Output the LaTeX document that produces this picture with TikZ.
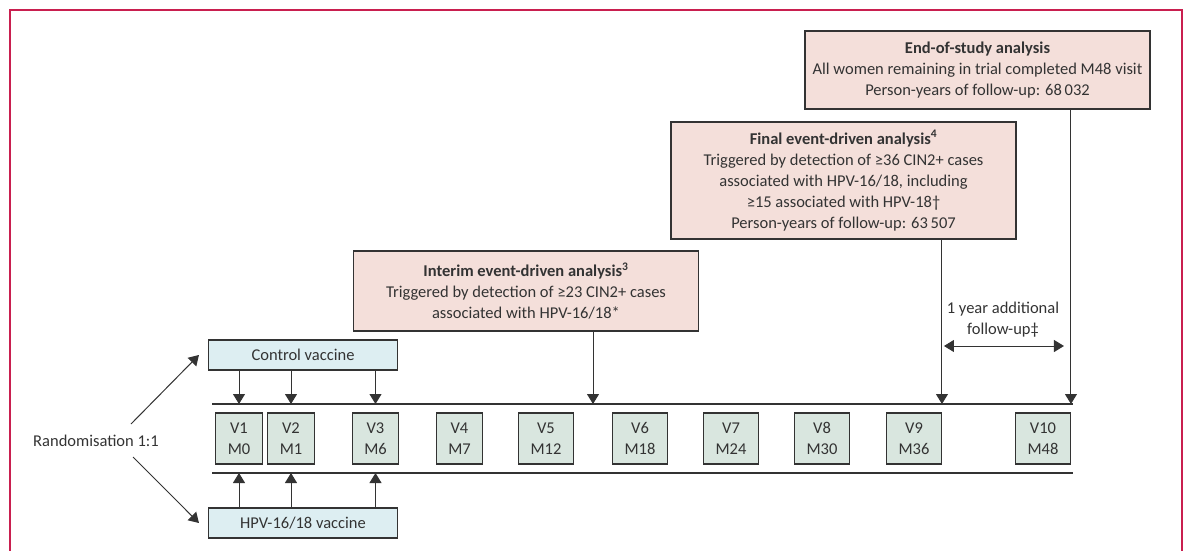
\documentclass[tikz,border=0pt]{standalone}
\usepackage{fontspec}
\setmainfont{Carlito}
\usetikzlibrary{arrows.meta,positioning,calc}
\definecolor{framered}{HTML}{C91F4F}
\definecolor{anapink}{HTML}{F4DFDA}
\definecolor{vacblue}{HTML}{DDEEF2}
\definecolor{visitgreen}{HTML}{D9E6DF}
\definecolor{ink}{HTML}{333333}

\begin{document}
\begin{tikzpicture}[
    x=1pt, y=-1pt,
    every node/.style={text=ink, font=\fontsize{16.5}{21}\selectfont},
    analysis/.style={draw=ink, line width=1.1pt, fill=anapink, align=center, minimum width=345pt, inner sep=0pt},
    vaccine/.style={draw=ink, line width=1.1pt, fill=vacblue, minimum width=189pt, minimum height=30pt, inner sep=0pt},
    visit/.style={draw=ink, line width=1.1pt, fill=visitgreen, align=center, minimum height=51pt, inner xsep=12pt, inner ysep=0pt},
    arr/.style={draw=ink, line width=1pt, -{Triangle[length=10pt,width=12pt]}},
    darr/.style={draw=ink, line width=1pt, {Triangle[length=10pt,width=12pt]}-{Triangle[length=10pt,width=12pt]}},
    rule/.style={draw=ink, line width=1.1pt}
]
\useasboundingbox (0,0) rectangle (1186,551);
\draw[framered, line width=1.2pt] (10,551) -- (10,10) -- (1182,10) -- (1182,551);

\node[analysis, minimum height=78pt] (endst) at (977.5,70) {\textbf{End-of-study analysis}\\All women remaining in trial completed M48 visit\\Person-years of follow-up: 68\,032};
\node[analysis, minimum height=117pt] (final) at (843.5,180.5) {\textbf{Final event-driven analysis\textsuperscript{4}}\\Triggered by detection of ≥36 CIN2+ cases\\associated with HPV-16/18, including\\≥15 associated with HPV-18†\\Person-years of follow-up: 63\,507};
\node[analysis, minimum height=80pt] (interim) at (526,291) {\textbf{Interim event-driven analysis\textsuperscript{3}}\\Triggered by detection of ≥23 CIN2+ cases\\associated with HPV-16/18*};

\node[vaccine] (ctrl) at (303,355) {Control vaccine};
\node[vaccine] (hpv) at (303,523) {HPV-16/18 vaccine};
\node (rand) at (96,441) {Randomisation 1:1};

\foreach \v/\m/\x in {1/0/239, 2/1/291, 3/6/375.5, 4/7/459.5, 5/12/546, 6/18/640, 7/24/731, 8/30/822, 9/36/914, 10/48/1043}
    \node[visit] (v\v) at (\x,438.5) {V\v\\M\m};

\coordinate (tl) at (212,404);
\coordinate (tr) at (1073,404);
\coordinate (bl) at (212,473);
\coordinate (br) at (1073,473);
\draw[rule] (tl) -- (tr);
\draw[rule] (bl) -- (br);

\coordinate (r1) at (131,424);
\coordinate (r2) at (133,457);
\draw[arr] (r1) -- ([xshift=-9pt]ctrl.west);
\draw[arr] (r2) -- ([xshift=-9pt]hpv.west);

\foreach \v in {1,2,3} {
    \draw[arr] (ctrl.south -| v\v) -- (v\v |- tl);
    \draw[arr] (hpv.north -| v\v) -- (v\v |- bl);
}

\coordinate (c56) at ($(v5.east)!.5!(v6.west)$);
\draw[arr] (interim.south -| c56) -- (c56 |- tl);
\draw[arr] (final.south -| v9.east) -- (v9.east |- tl);
\draw[arr] (endst.south -| v10.east) -- (v10.east |- tl);

\coordinate (fl) at ([xshift=2pt]v9.east |- 0,346);
\coordinate (fr) at ([xshift=-7pt]v10.east |- 0,346);
\draw[darr] (fl) -- (fr);
\node[align=center] (fu) at (1003,320) {1 year additional\\follow-up‡};

\end{tikzpicture}
\end{document}
